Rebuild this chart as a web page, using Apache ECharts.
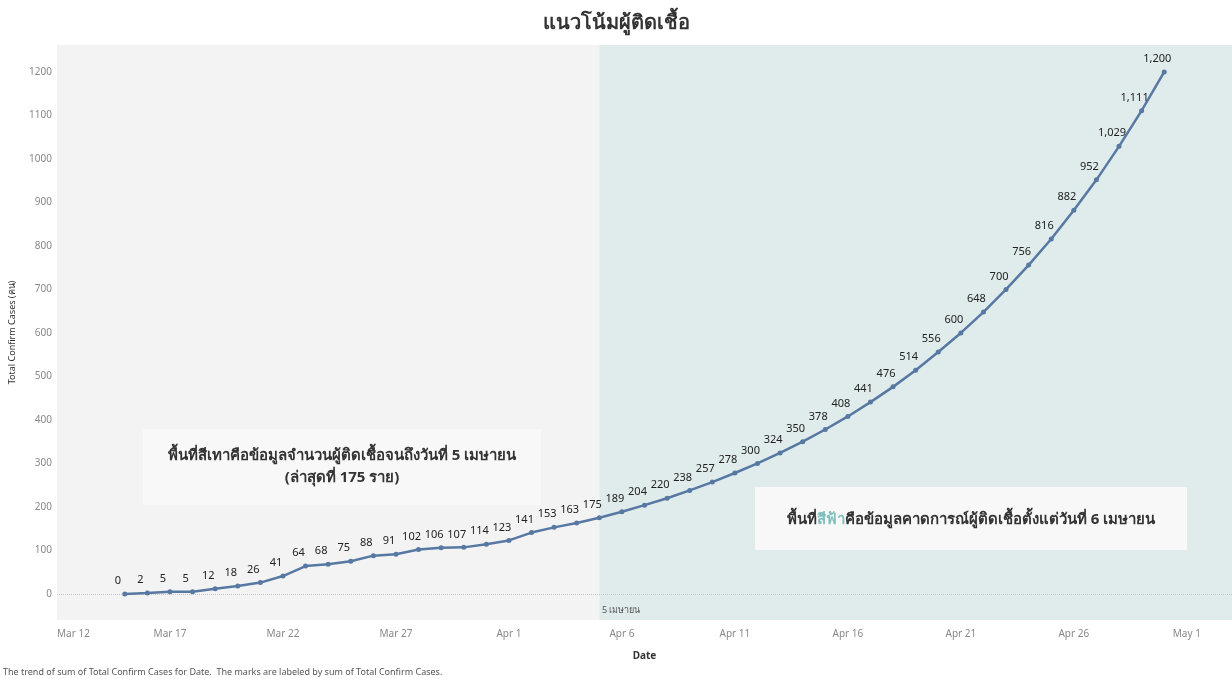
<!DOCTYPE html>
<html>
<head>
<meta charset="utf-8">
<script src="https://cdn.jsdelivr.net/npm/echarts@6/dist/echarts.min.js"></script>
<style>
  html, body { margin: 0; padding: 0; background: #fff; }
  #chart { width: 1232px; height: 679px; }
</style>
</head>
<body>
<div id="chart"></div>
<script>
// วันที่ (จริงถึง 5 เม.ย. แล้วเป็นค่าคาดการณ์)
const dates = [
  '2020-03-15', '2020-03-16', '2020-03-17', '2020-03-18', '2020-03-19', '2020-03-20',
  '2020-03-21', '2020-03-22', '2020-03-23', '2020-03-24', '2020-03-25', '2020-03-26',
  '2020-03-27', '2020-03-28', '2020-03-29', '2020-03-30', '2020-03-31', '2020-04-01',
  '2020-04-02', '2020-04-03', '2020-04-04', '2020-04-05', '2020-04-06', '2020-04-07',
  '2020-04-08', '2020-04-09', '2020-04-10', '2020-04-11', '2020-04-12', '2020-04-13',
  '2020-04-14', '2020-04-15', '2020-04-16', '2020-04-17', '2020-04-18', '2020-04-19',
  '2020-04-20', '2020-04-21', '2020-04-22', '2020-04-23', '2020-04-24', '2020-04-25',
  '2020-04-26', '2020-04-27', '2020-04-28', '2020-04-29', '2020-04-30'
];
const totalCases = [
  0, 2, 5, 5, 12, 18, 26, 41, 64, 68, 75, 88, 91, 102, 106, 107, 114, 123,
  141, 153, 163, 175, 189, 204, 220, 238, 257, 278, 300, 324, 350, 378, 408,
  441, 476, 514, 556, 600, 648, 700, 756, 816, 882, 952, 1029, 1111, 1200
];
const yTicks = [0, 100, 200, 300, 400, 500, 600, 700, 800, 900, 1000, 1100, 1200];
const splitDate = '2020-04-05';
const xStart = '2020-03-12';
const xEnd = '2020-05-03';

const months = ['Jan', 'Feb', 'Mar', 'Apr', 'May', 'Jun', 'Jul', 'Aug', 'Sep', 'Oct', 'Nov', 'Dec'];
const DAY = 86400000;
const t0 = Date.UTC(2020, 2, 12);
// นับเป็นจำนวนวันจาก 12 มี.ค.
const dayOf = s => Math.round((Date.UTC(+s.slice(0, 4), +s.slice(5, 7) - 1, +s.slice(8, 10)) - t0) / DAY);
const font = '"Noto Sans", "DejaVu Sans", sans-serif';

let myChart = echarts.init(document.getElementById('chart'));
let option = {
  backgroundColor: '#fff',
  animation: false,
  title: {
    text: 'แนวโน้มผู้ติดเชื้อ',
    left: 'center',
    top: 8,
    textStyle: { fontSize: 20, fontWeight: 'bold', color: '#333', fontFamily: font }
  },
  grid: { left: 57, right: 0, top: 45, bottom: 59 },
  xAxis: {
    type: 'value',
    min: dayOf(xStart),
    max: dayOf(xEnd),
    interval: 5,
    name: 'Date',
    nameLocation: 'middle',
    nameGap: 31,
    nameTextStyle: { fontSize: 10, fontWeight: 'bold', color: '#333', fontFamily: font },
    axisLine: { show: false },
    axisTick: { show: false },
    splitLine: { show: false },
    axisLabel: {
      showMaxLabel: false,
      alignMinLabel: 'left',
      margin: 9,
      fontSize: 10,
      color: '#888',
      fontFamily: font,
      formatter: v => {
        const d = new Date(t0 + v * DAY);
        return months[d.getUTCMonth()] + ' ' + d.getUTCDate();
      }
    }
  },
  yAxis: {
    type: 'value',
    min: -60,
    max: 1262,
    name: 'Total Confirm Cases (คน)',
    nameLocation: 'middle',
    nameGap: 40,
    nameTextStyle: { fontSize: 9, color: '#333', fontFamily: font },
    axisLine: { show: false },
    axisTick: { show: false, customValues: yTicks },
    axisLabel: {
      customValues: yTicks,
      fontSize: 10,
      color: '#888',
      margin: 5,
      fontFamily: font,
      formatter: v => String(v)
    },
    splitLine: { show: true, lineStyle: { color: 'rgba(255,255,255,0.45)', width: 1 } }
  },
  series: [{
    type: 'line',
    data: dates.map((d, i) => [dayOf(d), totalCases[i]]),
    symbol: 'circle',
    symbolSize: 5,
    itemStyle: { color: '#5778a2' },
    lineStyle: { color: '#5778a2', width: 2.5 },
    label: {
      show: true,
      position: 'top',
      offset: [-7, 0],
      distance: 5,
      fontSize: 11,
      color: '#222',
      fontFamily: font,
      formatter: p => p.value[1].toLocaleString('en-US')
    },
    markLine: {
      silent: true,
      symbol: 'none',
      label: { show: false },
      lineStyle: { color: '#c8c8c8', type: 'dotted', width: 1 },
      data: [{ yAxis: 0 }],
      z: 1
    },
    markArea: {
      silent: true,
      data: [
        [{ xAxis: dayOf(xStart), itemStyle: { color: '#f3f3f3' } }, { xAxis: dayOf(splitDate) }],
        [{ xAxis: dayOf(splitDate), itemStyle: { color: '#dfeceb' } }, { xAxis: dayOf(xEnd) }]
      ]
    }
  }],
  graphic: [
    {
      type: 'text',
      left: 602, top: 606,
      style: { text: '5 เมษายน', font: '9px ' + font, fill: '#555' },
      z: 11
    },
    {
      type: 'rect',
      shape: { x: 143, y: 429, width: 398, height: 76 },
      style: { fill: '#f8f8f8' },
      z: 10
    },
    {
      type: 'text',
      x: 342, y: 467,
      style: {
        text: 'พื้นที่สีเทาคือข้อมูลจำนวนผู้ติดเชื้อจนถึงวันที่ 5 เมษายน\n(ล่าสุดที่ 175 ราย)',
        align: 'center',
        verticalAlign: 'middle',
        lineHeight: 22,
        font: 'bold 15px ' + font,
        fill: '#333'
      },
      z: 11
    },
    {
      type: 'rect',
      shape: { x: 755, y: 487, width: 432, height: 63 },
      style: { fill: '#f8f8f8' },
      z: 10
    },
    {
      type: 'text',
      x: 971, y: 520,
      style: {
        text: '{b|พื้นที่}{c|สีฟ้า}{b|คือข้อมูลคาดการณ์ผู้ติดเชื้อตั้งแต่วันที่ 6 เมษายน}',
        align: 'center',
        verticalAlign: 'middle',
        rich: {
          b: { fontSize: 15, fontWeight: 'bold', fontFamily: font, fill: '#333' },
          c: { fontSize: 15, fontWeight: 'bold', fontFamily: font, fill: '#7fbfbc' }
        }
      },
      z: 11
    },
    {
      type: 'text',
      left: 3, top: 668,
      style: {
        text: 'The trend of sum of Total Confirm Cases for Date.  The marks are labeled by sum of Total Confirm Cases.',
        font: '9px ' + font,
        fill: '#555'
      }
    }
  ]
};
myChart.setOption(option, true);

window.addEventListener('resize', () => {
  myChart.resize();
});
</script>
</body>
</html>
